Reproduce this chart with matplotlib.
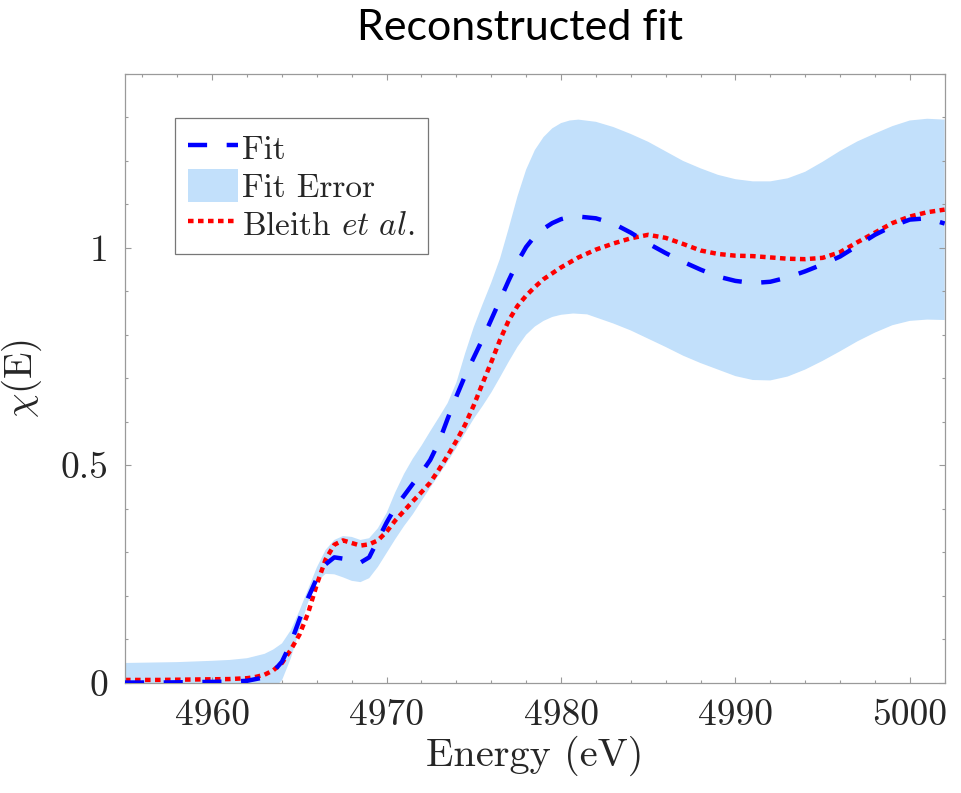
import numpy as np
import matplotlib
matplotlib.use("Agg")
import matplotlib.pyplot as plt
from matplotlib.ticker import MultipleLocator, FixedLocator

plt.rcParams["font.family"] = "serif"
plt.rcParams["font.serif"] = ["cmr10"]
plt.rcParams["mathtext.fontset"] = "cm"
plt.rcParams["axes.formatter.use_mathtext"] = True

# Reconstructed fit (blue dashed)
fit_E = [4955, 4957, 4959, 4961, 4962, 4963, 4963.5, 4964, 4964.5, 4965, 4965.5,
         4966, 4966.5, 4967, 4967.5, 4968, 4968.5, 4969, 4969.5, 4970, 4970.5,
         4971, 4971.5, 4972, 4972.5, 4973, 4973.5, 4974, 4974.5, 4975, 4975.5,
         4976, 4976.5, 4977, 4977.5, 4978, 4978.5, 4979, 4979.5, 4980, 4980.5, 4981,
         4982, 4983, 4984, 4985, 4986, 4987, 4988, 4989, 4990, 4991, 4992, 4993,
         4994, 4995, 4996, 4997, 4998, 4999, 5000, 5001, 5002]
fit_chi = [0.000, 0.000, 0.001, 0.002, 0.004, 0.012, 0.025, 0.048, 0.090, 0.145, 0.195,
           0.240, 0.272, 0.288, 0.285, 0.277, 0.276, 0.288, 0.328, 0.368, 0.403,
           0.430, 0.457, 0.483, 0.512, 0.553, 0.607, 0.658, 0.706, 0.748, 0.790,
           0.835, 0.880, 0.925, 0.967, 1.002, 1.027, 1.044, 1.057, 1.066, 1.071, 1.072,
           1.068, 1.056, 1.035, 1.010, 0.988, 0.968, 0.950, 0.934, 0.924, 0.919, 0.922, 0.932,
           0.946, 0.962, 0.980, 1.005, 1.030, 1.050, 1.065, 1.068, 1.056]

# Reference spectrum, Bleith et al. (red dotted)
ref_E = [4955, 4957, 4959, 4961, 4962, 4962.5, 4963, 4963.5, 4964, 4964.5, 4965,
         4965.5, 4966, 4966.5, 4967, 4967.5, 4968, 4968.5, 4969, 4969.5, 4970,
         4970.5, 4971, 4971.5, 4972, 4972.5, 4973, 4973.5, 4974, 4974.5, 4975,
         4975.5, 4976, 4976.5, 4977, 4977.5, 4978, 4978.5, 4979, 4980, 4981, 4982, 4983,
         4984, 4985, 4986, 4987, 4988, 4989, 4990, 4991, 4992, 4993, 4994, 4995,
         4996, 4997, 4998, 4999, 5000, 5001, 5002]
ref_chi = [0.006, 0.006, 0.007, 0.008, 0.010, 0.013, 0.018, 0.028, 0.045, 0.075, 0.110,
           0.160, 0.226, 0.283, 0.317, 0.327, 0.321, 0.315, 0.318, 0.327, 0.347,
           0.373, 0.395, 0.417, 0.438, 0.460, 0.490, 0.522, 0.556, 0.593, 0.638,
           0.688, 0.737, 0.788, 0.833, 0.866, 0.890, 0.910, 0.928, 0.955, 0.978, 0.996, 1.010,
           1.022, 1.030, 1.023, 1.009, 0.994, 0.986, 0.982, 0.981, 0.978, 0.975, 0.974, 0.977,
           0.990, 1.013, 1.035, 1.057, 1.072, 1.082, 1.088]

# Fit error band: upper edge
err_hi_E = [4955, 4958, 4960, 4961, 4962, 4963, 4963.5, 4964, 4964.5, 4965, 4965.5,
            4966, 4966.5, 4967, 4967.5, 4968, 4968.5, 4969, 4969.5, 4970, 4970.5,
            4971, 4971.5, 4972, 4972.5, 4973, 4973.5, 4974, 4974.5, 4975, 4975.5,
            4976, 4976.5, 4977, 4977.5, 4978, 4978.5, 4979, 4979.5, 4980, 4980.5, 4981,
            4982, 4983, 4984, 4985, 4986, 4987, 4988, 4989, 4990, 4991, 4992, 4993,
            4994, 4995, 4996, 4997, 4998, 4999, 5000, 5001, 5002]
err_hi = [0.045, 0.047, 0.050, 0.052, 0.056, 0.066, 0.076, 0.090, 0.120, 0.165, 0.215,
          0.265, 0.305, 0.328, 0.337, 0.335, 0.328, 0.332, 0.355, 0.390, 0.438,
          0.480, 0.515, 0.545, 0.578, 0.610, 0.643, 0.690, 0.757, 0.818, 0.870,
          0.920, 0.975, 1.045, 1.118, 1.180, 1.225, 1.255, 1.275, 1.287, 1.293, 1.295,
          1.290, 1.278, 1.262, 1.244, 1.222, 1.200, 1.183, 1.168, 1.158, 1.153, 1.153, 1.160,
          1.175, 1.198, 1.223, 1.245, 1.263, 1.280, 1.293, 1.297, 1.295]

# Fit error band: lower edge
err_lo_E = [4955, 4960, 4962, 4963, 4963.5, 4964, 4964.5, 4965, 4965.5, 4966, 4966.5,
            4967, 4967.5, 4968, 4968.5, 4969, 4969.5, 4970, 4970.5, 4971, 4971.5,
            4972, 4972.5, 4973, 4973.5, 4974, 4974.5, 4975, 4975.5, 4976, 4976.5,
            4977, 4977.5, 4978, 4978.5, 4979, 4979.5, 4980, 4980.7, 4981.5, 4982, 4983,
            4984, 4985, 4986, 4987, 4988, 4989, 4990, 4991, 4992, 4993, 4994, 4995,
            4996, 4997, 4998, 4999, 5000, 5001, 5002]
err_lo = [-0.045, -0.048, -0.045, -0.030, -0.015, 0.005, 0.055, 0.120, 0.185, 0.232, 0.250,
          0.249, 0.242, 0.234, 0.231, 0.240, 0.266, 0.298, 0.330, 0.360, 0.387,
          0.418, 0.448, 0.478, 0.508, 0.540, 0.574, 0.607, 0.636, 0.667, 0.702,
          0.738, 0.772, 0.800, 0.819, 0.832, 0.841, 0.846, 0.849, 0.847, 0.840, 0.826,
          0.810, 0.791, 0.772, 0.752, 0.735, 0.720, 0.705, 0.696, 0.695, 0.704, 0.720, 0.740,
          0.762, 0.785, 0.805, 0.822, 0.832, 0.835, 0.834]

x_ticks = [4960, 4970, 4980, 4990, 5000]
y_ticks = [0, 0.5, 1]

band_color = "#c2e0fb"
axis_grey = "#9a9a9a"
text_dark = "#262626"

fig = plt.figure(figsize=(9.61, 7.93), dpi=100)
ax = fig.add_axes([0.1301, 0.1393, 0.8529, 0.7674])

band_x = np.concatenate([err_hi_E, err_lo_E[::-1]])
band_y = np.concatenate([err_hi, err_lo[::-1]])
ax.fill(band_x, band_y, color=band_color, lw=0, label="Fit Error", zorder=1)
ax.plot(fit_E, fit_chi, color="#0000ff", lw=3.2, ls=(0, (4.3, 4.4)),
        dash_capstyle="butt", label="Fit", zorder=3)
ax.plot(ref_E, ref_chi, color="#ff0000", lw=3.2, ls=(0, (1.25, 1.0)),
        dash_capstyle="butt", label=r"Bleith $\mathit{et\ al.}$", zorder=2)

ax.set_xlim(4955, 5002)
ax.set_ylim(0, 1.4)
ax.xaxis.set_major_locator(FixedLocator(x_ticks))
ax.xaxis.set_minor_locator(MultipleLocator(2))
ax.yaxis.set_major_locator(FixedLocator(y_ticks))
ax.yaxis.set_minor_locator(MultipleLocator(0.1))
ax.set_yticklabels(["0", "0.5", "1"])
ax.set_xticklabels([str(t) for t in x_ticks])

for s in ax.spines.values():
    s.set_color(axis_grey)
    s.set_linewidth(0.9)
ax.tick_params(which="both", direction="in", top=True, right=True,
               color=axis_grey, width=0.8, labelcolor=text_dark, labelsize=27)
ax.tick_params(which="major", length=4)
ax.tick_params(which="minor", length=2)
ax.tick_params(axis="x", which="major", pad=12)
ax.tick_params(axis="y", which="major", pad=12)

ax.set_xlabel("Energy (eV)", fontsize=29, color=text_dark, labelpad=2)
ax.set_ylabel(r"$\chi$(E)", fontsize=28, color=text_dark, labelpad=12)

handles, labels = ax.get_legend_handles_labels()
order = [labels.index("Fit"), labels.index("Fit Error"), 2]
leg = ax.legend([handles[i] for i in order], [labels[i] for i in order],
                loc="upper left", bbox_to_anchor=(0.061, 0.928),
                fontsize=24, frameon=True, fancybox=False, borderpad=0.4,
                handlelength=1.5, handleheight=1.15, handletextpad=0.12,
                labelspacing=0.12, borderaxespad=0)
leg.get_frame().set_edgecolor("#555555")
leg.get_frame().set_linewidth(0.9)
for t in leg.get_texts():
    t.set_color(text_dark)

fig.text(0.541, 0.965, "Reconstructed fit", ha="center", va="center",
         fontsize=31, family="Lato", color="black")

fig.savefig("out.png", dpi=100)
